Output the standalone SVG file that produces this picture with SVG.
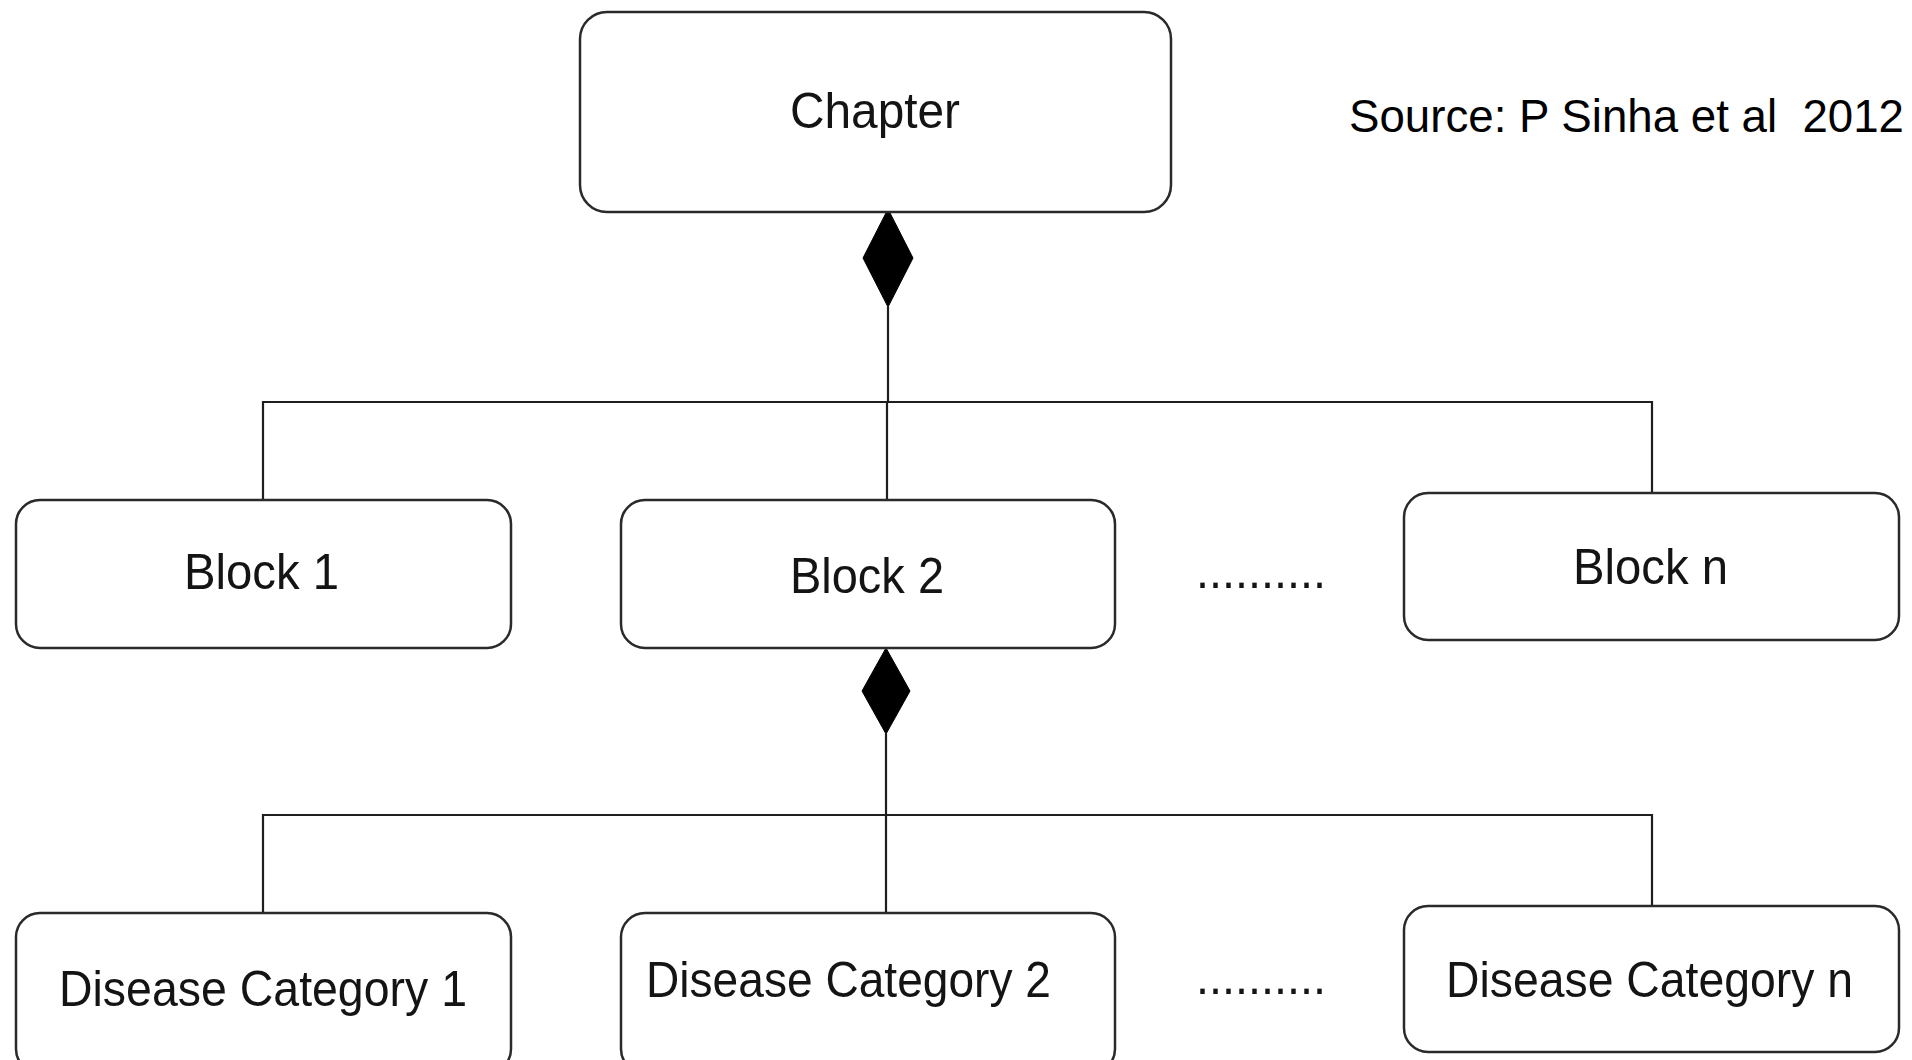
<svg xmlns="http://www.w3.org/2000/svg" width="1912" height="1060" viewBox="0 0 1912 1060">
<style>
.box{fill:#fff;stroke:#2a2a2a;stroke-width:2.5}
.lbl{font-family:"Liberation Sans",Arial,sans-serif;font-size:50px;fill:#141414}
.conn{fill:none;stroke:#1e1e1e;stroke-width:2.2}
.dia{fill:#000;stroke:#000;stroke-width:1}
</style>
<rect width="1912" height="1060" fill="#fff"/>
<g id="connectors">
<polygon class="dia" points="888,209 913,258 888,307 863,258"/>
<path class="conn" d="M888,307 V402 M263,500 V402 H1652 V493 M887,402 V500"/>
<polygon class="dia" points="886,648 910,691 886,734 862,691"/>
<path class="conn" d="M886,734 V815 M263,913 V815 H1652 V906 M886,815 V913"/>
</g>
<g id="chapter">
<rect class="box" x="580" y="12" width="591" height="200" rx="27"/>
<text class="lbl" x="790" y="128" textLength="170" lengthAdjust="spacingAndGlyphs">Chapter</text>
</g>
<g id="source">
<text class="lbl" x="1349" y="132" style="fill:#000;font-size:46px" xml:space="preserve" textLength="555" lengthAdjust="spacingAndGlyphs">Source: P Sinha et al  2012</text>
</g>
<g id="block1">
<rect class="box" x="16" y="500" width="495" height="148" rx="24"/>
<text class="lbl" x="184" y="589" textLength="155" lengthAdjust="spacingAndGlyphs">Block 1</text>
</g>
<g id="block2">
<rect class="box" x="621" y="500" width="494" height="148" rx="24"/>
<text class="lbl" x="790" y="593" textLength="154" lengthAdjust="spacingAndGlyphs">Block 2</text>
</g>
<g id="dots1">
<text class="lbl" x="1196" y="588" textLength="130" lengthAdjust="spacingAndGlyphs">..........</text>
</g>
<g id="blockn">
<rect class="box" x="1404" y="493" width="495" height="147" rx="24"/>
<text class="lbl" x="1573" y="584" textLength="155" lengthAdjust="spacingAndGlyphs">Block n</text>
</g>
<g id="dc1">
<rect class="box" x="16" y="913" width="495" height="160" rx="24"/>
<text class="lbl" x="59" y="1006" textLength="408" lengthAdjust="spacingAndGlyphs">Disease Category 1</text>
</g>
<g id="dc2">
<rect class="box" x="621" y="913" width="494" height="160" rx="24"/>
<text class="lbl" x="646" y="997" textLength="405" lengthAdjust="spacingAndGlyphs">Disease Category 2</text>
</g>
<g id="dots2">
<text class="lbl" x="1196" y="994" textLength="130" lengthAdjust="spacingAndGlyphs">..........</text>
</g>
<g id="dcn">
<rect class="box" x="1404" y="906" width="495" height="146" rx="24"/>
<text class="lbl" x="1446" y="997" textLength="407" lengthAdjust="spacingAndGlyphs">Disease Category n</text>
</g>
</svg>
